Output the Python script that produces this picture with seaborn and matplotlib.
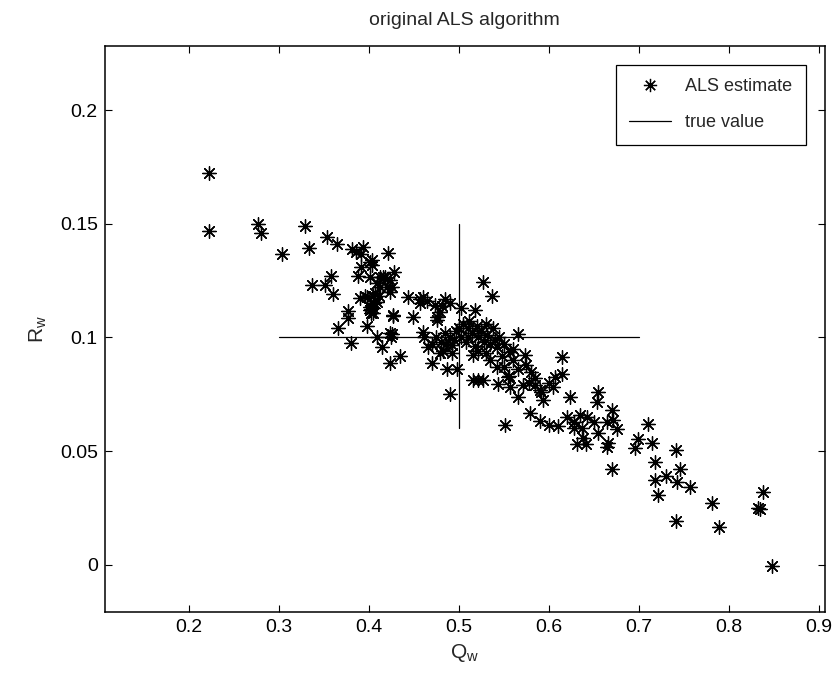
import numpy as np
import pandas as pd
import matplotlib
matplotlib.use("Agg")
import matplotlib.pyplot as plt
import seaborn as sns
from matplotlib.lines import Line2D

# ---- data ----
q_est = [
    0.2226, 0.2226, 0.2774, 0.280, 0.329, 0.304, 0.334, 0.354, 0.3644, 0.3818,
    0.3855, 0.394, 0.391, 0.4033, 0.4033, 0.4214, 0.392, 0.3885, 0.4014, 0.416,
    0.428, 0.4237, 0.3367, 0.3514, 0.3578, 0.3607, 0.4126, 0.4237, 0.3959, 0.405,
    0.406, 0.402, 0.403, 0.4026, 0.4267, 0.444, 0.4607, 0.457, 0.4737, 0.4848,
    0.4792, 0.476, 0.4496, 0.3774, 0.3774, 0.3663, 0.3978, 0.380, 0.4089, 0.4144,
    0.4237, 0.4255, 0.425, 0.4237, 0.4348, 0.4607, 0.462, 0.4655, 0.470, 0.4792,
    0.486, 0.493, 0.493, 0.4867, 0.4978, 0.4903, 0.5022, 0.518, 0.5274, 0.5367,
    0.5514, 0.516, 0.521, 0.527,
    0.407, 0.4089, 0.4044, 0.4051, 0.4015, 0.4126, 0.418, 0.4089, 0.420, 0.4255,
    0.390, 0.398, 0.412, 0.4015, 0.4052, 0.4274, 0.4567, 0.465, 0.482, 0.490,
    0.4755,
    0.505, 0.510, 0.512, 0.515, 0.520, 0.522, 0.525, 0.528, 0.530, 0.532,
    0.535, 0.538, 0.540, 0.500, 0.503, 0.508, 0.510, 0.518, 0.522, 0.5163,
    0.5422, 0.557, 0.5737, 0.5422, 0.550, 0.556, 0.566, 0.5662, 0.6144, 0.6144,
    0.607, 0.544, 0.555, 0.557, 0.566, 0.571, 0.578, 0.585, 0.590, 0.592,
    0.594, 0.579, 0.5903, 0.600, 0.610, 0.6237, 0.620, 0.628, 0.635,
    0.643, 0.650, 0.628, 0.637, 0.655, 0.6552, 0.6537, 0.670, 0.6644, 0.6718,
    0.6756, 0.6384, 0.631, 0.642, 0.6662, 0.6644, 0.670, 0.6996, 0.6959, 0.7107,
    0.7144, 0.7181, 0.7411, 0.7181, 0.7303, 0.7422, 0.7459, 0.7219, 0.757, 0.7411,
    0.7818, 0.7892, 0.8385, 0.8329, 0.835, 0.8485,
    0.575, 0.580, 0.585, 0.560, 0.548, 0.530, 0.535, 0.545, 0.550, 0.560,
    0.600, 0.605, 0.475, 0.480, 0.485, 0.490, 0.495, 0.497, 0.470, 0.483,
]
r_est = [
    0.1722, 0.1468, 0.1499, 0.1458, 0.1488, 0.1368, 0.1393, 0.1443, 0.1411, 0.1387,
    0.1377, 0.1399, 0.1368, 0.1340, 0.1318, 0.1370, 0.1311, 0.1270, 0.1267, 0.1267,
    0.1289, 0.1252, 0.1229, 0.1232, 0.1270, 0.1191, 0.1223, 0.1201, 0.1183, 0.1180,
    0.1150, 0.1135, 0.1125, 0.1108, 0.1098, 0.1176, 0.1179, 0.1153, 0.1142, 0.1167,
    0.1113, 0.1076, 0.1091, 0.1117, 0.1084, 0.1040, 0.1050, 0.0974, 0.1000, 0.0956,
    0.1020, 0.1014, 0.1000, 0.0886, 0.0918, 0.1025, 0.1000, 0.0957, 0.0886, 0.0933,
    0.0970, 0.0965, 0.0930, 0.0860, 0.0860, 0.0751, 0.1128, 0.1120, 0.1245, 0.1183,
    0.0614, 0.0812, 0.0812, 0.0812,
    0.1194, 0.1157, 0.1150, 0.1128, 0.1333, 0.1267, 0.1267, 0.1238, 0.1223, 0.1223,
    0.1173, 0.1178, 0.1180, 0.1120, 0.1107, 0.1094, 0.1170, 0.1160, 0.1140, 0.1150,
    0.1090,
    0.1060, 0.1040, 0.1070, 0.1020, 0.1050, 0.1000, 0.1030, 0.0980, 0.1060, 0.1010,
    0.0970, 0.1040, 0.0990, 0.1040, 0.1000, 0.0980, 0.1000, 0.0960, 0.0940, 0.0922,
    0.0959, 0.0936, 0.0922, 0.0871, 0.0870, 0.0830, 0.0860, 0.1013, 0.0915, 0.0839,
    0.0827, 0.0795, 0.0825, 0.0780, 0.0739, 0.0790, 0.0800, 0.0790, 0.0770, 0.0760,
    0.0725, 0.0669, 0.0632, 0.0615, 0.0610, 0.0739, 0.0650, 0.0630, 0.0660,
    0.0650, 0.0630, 0.0600, 0.0600, 0.0580, 0.0761, 0.0717, 0.0680, 0.0629, 0.0636,
    0.0596, 0.0556, 0.0530, 0.0530, 0.0534, 0.0519, 0.0420, 0.0552, 0.0512, 0.0619,
    0.0534, 0.0450, 0.0505, 0.0373, 0.0392, 0.0365, 0.0420, 0.0307, 0.0343, 0.0192,
    0.0270, 0.0164, 0.0321, 0.0248, 0.0244, -0.0006,
    0.0880, 0.0850, 0.0820, 0.0900, 0.0920, 0.0930, 0.0900, 0.1000, 0.0970, 0.0950,
    0.0800, 0.0780, 0.1000, 0.0980, 0.1020, 0.1000, 0.0990, 0.1030, 0.0970, 0.0940,
]

true_q = 0.5
true_r = 0.1
q_span = [0.3, 0.7]      # horizontal "true value" segment
r_span = [0.06, 0.15]    # vertical "true value" segment

x_ticks = [0.2, 0.3, 0.4, 0.5, 0.6, 0.7, 0.8, 0.9]
y_ticks = [0, 0.05, 0.1, 0.15, 0.2]
x_ticklabels = ["0.2", "0.3", "0.4", "0.5", "0.6", "0.7", "0.8", "0.9"]
y_ticklabels = ["0", "0.05", "0.1", "0.15", "0.2"]

title = "original ALS algorithm"
xlabel = r"Q$_\mathrm{w}$"
ylabel = r"R$_\mathrm{w}$"
legend_labels = ["ALS estimate", "true value"]

# ---- style ----
sns.set_style("white")
plt.rcParams["font.family"] = ["Liberation Sans", "DejaVu Sans"]
plt.rcParams["mathtext.fontset"] = "custom"
plt.rcParams["mathtext.rm"] = "Liberation Sans"

FS = 14
fig = plt.figure(figsize=(8.35, 6.75), dpi=100)
ax = fig.add_axes([0.1254, 0.0933, 0.8626, 0.8386])

df = pd.DataFrame({"Q": q_est, "R": r_est})
asterisk = (8, 2, 0)
sns.scatterplot(data=df, x="Q", y="R", ax=ax, marker=asterisk, s=95,
                color="black", linewidth=0.95, legend=False, zorder=3)

ax.plot(q_span, [true_r, true_r], color="black", lw=0.9, zorder=2)
ax.plot([true_q, true_q], r_span, color="black", lw=0.9, zorder=2)

ax.set_xlim(0.1067, 0.907)
ax.set_ylim(-0.0208, 0.2282)
ax.set_xticks(x_ticks)
ax.set_xticklabels(x_ticklabels)
ax.set_yticks(y_ticks)
ax.set_yticklabels(y_ticklabels)
ax.tick_params(direction="in", length=5, width=0.8, labelsize=FS,
               top=True, right=True, bottom=True, left=True, colors="black", pad=5)
for sp in ax.spines.values():
    sp.set_color("black")
    sp.set_linewidth(1.1)

ax.set_title(title, fontsize=FS, pad=15)
ax.set_xlabel(xlabel, fontsize=FS + 1, labelpad=4)
ax.set_ylabel(ylabel, fontsize=FS + 1, labelpad=8)

handles = [
    Line2D([], [], marker=asterisk, color="black", linestyle="none",
           markersize=9.5, markeredgewidth=0.9),
    Line2D([], [], color="black", lw=0.9),
]
leg = ax.legend(handles, legend_labels, loc="upper right", fontsize=FS - 1,
                frameon=True, fancybox=False, edgecolor="black", framealpha=1,
                borderaxespad=1.05, handlelength=2.3, borderpad=0.75,
                labelspacing=1.05, handletextpad=0.8)
leg.get_frame().set_linewidth(0.9)

fig.savefig("out.png", dpi=100)
